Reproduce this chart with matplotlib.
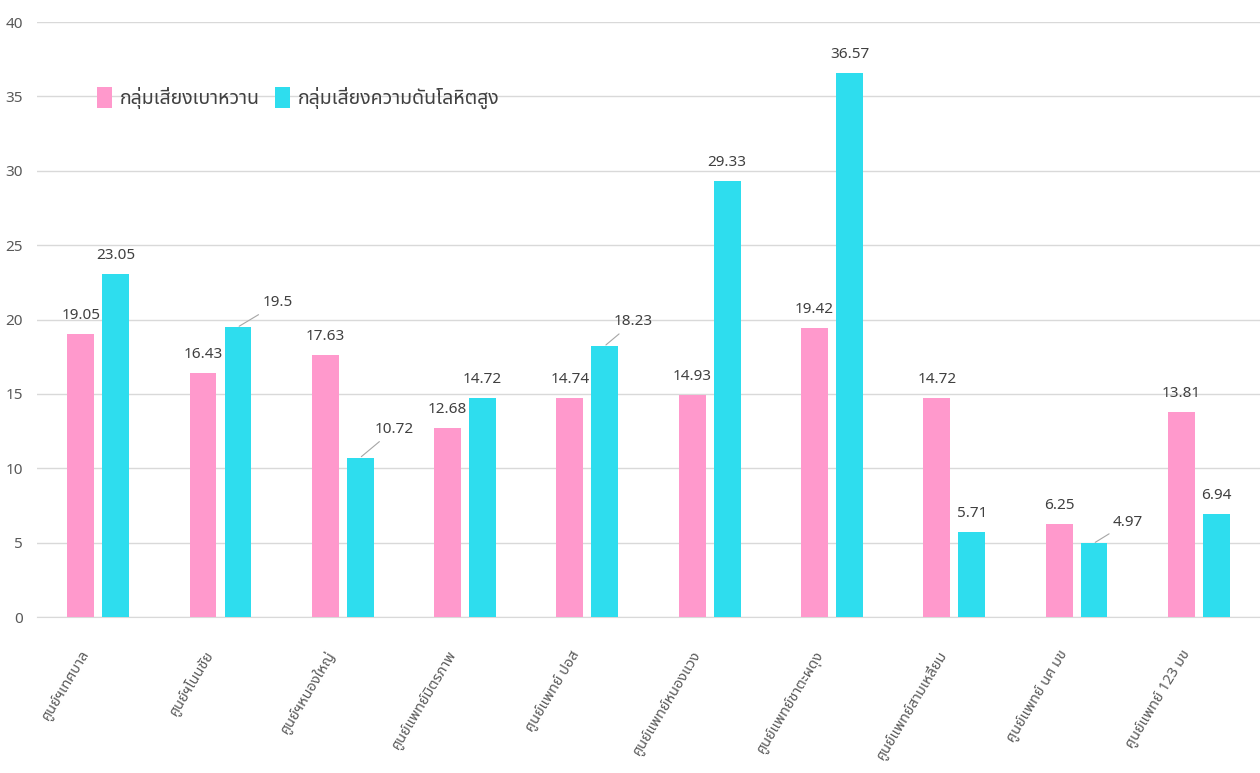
import numpy as np
import matplotlib
matplotlib.use("Agg")
import matplotlib.pyplot as plt
from matplotlib import font_manager, ft2font
from matplotlib.transforms import ScaledTranslation

centers = ["ศูนย์ฯเทศบาล", "ศูนย์ฯโนนชัย", "ศูนย์ฯหนองใหญ่", "ศูนย์แพทย์มิตรภาพ",
           "ศูนย์แพทย์ ปอส", "ศูนย์แพทย์หนองแวง", "ศูนย์แพทย์ชาตะผดุง",
           "ศูนย์แพทย์สามเหลี่ยม", "ศูนย์แพทย์ นศ มข", "ศูนย์แพทย์ 123 มข"]
diabetes = [19.05, 16.43, 17.63, 12.68, 14.74, 14.93, 19.42, 14.72, 6.25, 13.81]
hypertension = [23.05, 19.5, 10.72, 14.72, 18.23, 29.33, 36.57, 5.71, 4.97, 6.94]
series_names = ["กลุ่มเสี่ยงเบาหวาน", "กลุ่มเสี่ยงความดันโลหิตสูง"]
yticks = [0, 5, 10, 15, 20, 25, 30, 35, 40]

# labels that sit off to the side with a leader line: index -> (dx, dy) pixels
leader = {1: (25, 24), 2: (14, 28), 4: (9, 24), 8: (19, 21)}


def find_thai_font():
    prefer = ["Noto Sans Thai", "Noto Sans Thai UI", "Loma", "Garuda", "Sarabun",
              "Tlwg Typist", "Norasi", "Kinnari"]
    found = []
    for f in font_manager.fontManager.ttflist:
        try:
            if 0x0E01 in ft2font.FT2Font(f.fname).get_charmap():
                found.append(f.name)
        except Exception:
            pass
    for p in prefer:
        if p in found:
            return p
    return found[0] if found else "DejaVu Sans"


thai = find_thai_font()
plt.rcParams['font.family'] = ['Liberation Sans Narrow', thai, 'DejaVu Sans']

pink = "#FF99CC"
cyan = "#2EDDEE"
txt = "#404040"

fig = plt.figure(figsize=(12.6, 7.73), dpi=100)
ax = fig.add_axes([0.0294, 0.2018, 0.9706, 0.7697])

x = np.arange(len(centers))
w = 0.22
off = 0.143
b1 = ax.bar(x - off, diabetes, w, color=pink, label=series_names[0], zorder=3)
b2 = ax.bar(x + off, hypertension, w, color=cyan, label=series_names[1], zorder=3)

for i, v in enumerate(diabetes):
    ax.annotate(f"{v:g}", (x[i] - off, v), xytext=(0, 11), textcoords="offset pixels",
                ha="center", va="bottom", fontsize=11, color=txt)
for i, v in enumerate(hypertension):
    if i in leader:
        dx, dy = leader[i]
        ax.annotate(f"{v:g}", (x[i] + off, v), xytext=(dx, dy), textcoords="offset pixels",
                    ha="left", va="center", fontsize=11, color=txt,
                    arrowprops=dict(arrowstyle="-", color="#a6a6a6", lw=0.8,
                                    shrinkA=2, shrinkB=1))
    else:
        ax.annotate(f"{v:g}", (x[i] + off, v), xytext=(0, 11), textcoords="offset pixels",
                    ha="center", va="bottom", fontsize=11, color=txt)

ax.set_xlim(-0.5, len(centers) - 0.5)
ax.set_ylim(0, 40)
ax.set_yticks(yticks)
ax.yaxis.grid(True, color="#d9d9d9", lw=1, zorder=0)
ax.tick_params(axis="y", length=0, labelsize=11, labelcolor="#595959", pad=10)
ax.tick_params(axis="x", length=0, pad=22)
ax.set_xticks(x)
ax.set_xticklabels(centers, rotation=59, ha="right", rotation_mode="anchor",
                   fontsize=10.5, color="#595959", family=[thai, 'DejaVu Sans'])
shift = ScaledTranslation(-18 / 100, 0, fig.dpi_scale_trans)
for lab in ax.get_xticklabels():
    lab.set_transform(lab.get_transform() + shift)
for s in ["top", "right", "left"]:
    ax.spines[s].set_visible(False)
ax.spines["bottom"].set_color("#d9d9d9")

leg = ax.legend(loc="center left", bbox_to_anchor=(0.035, 0.872), ncol=2, frameon=False,
                handlelength=0.75, handleheight=1.3, handletextpad=0.4, columnspacing=0.8,
                prop={"family": [thai, 'DejaVu Sans'], "size": 14})
for t in leg.get_texts():
    t.set_color(txt)

fig.savefig("out.png", dpi=100)
